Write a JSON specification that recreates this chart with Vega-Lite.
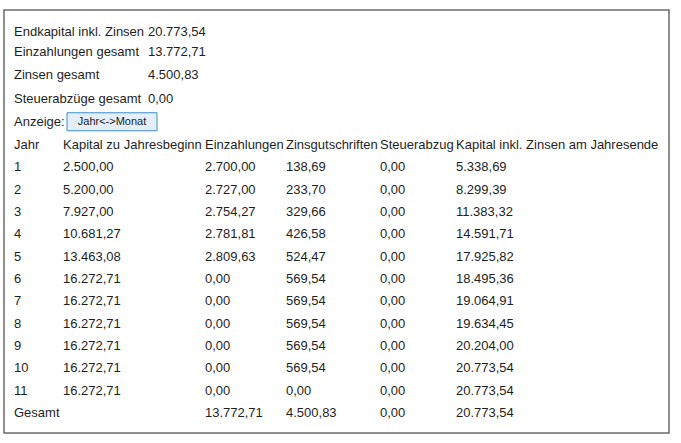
{
  "$schema": "https://vega.github.io/schema/vega-lite/v6.json",
  "width": 681,
  "height": 443,
  "autosize": {"type": "fit", "contains": "padding"},
  "padding": {"left": 4, "top": 10, "right": 12, "bottom": 10},
  "background": "white",
  "config": {
    "view": {"stroke": "#6b6b6b", "strokeWidth": 1.5},
    "text": {"font": "Liberation Sans", "fontSize": 13, "color": "#1e1e1e", "align": "left", "baseline": "middle"}
  },
  "datasets": {
    "summary": [
      {"r": 0, "c": 0, "t": "Endkapital inkl. Zinsen"},
      {"r": 0, "c": 2, "t": "20.773,54"},
      {"r": 1, "c": 0, "t": "Einzahlungen gesamt"},
      {"r": 1, "c": 2, "t": "13.772,71"},
      {"r": 2, "c": 0, "t": "Zinsen gesamt"},
      {"r": 2, "c": 2, "t": "4.500,83"},
      {"r": 3, "c": 0, "t": "Steuerabzüge gesamt"},
      {"r": 3, "c": 2, "t": "0,00"},
      {"r": 4, "c": 0, "t": "Anzeige:"}
    ],
    "button": [
      {"r": 4, "c": 1, "t": "Jahr<->Monat"}
    ],
    "table": [
      {"r": 5, "c": 0, "t": "Jahr"},
      {"r": 5, "c": 1, "t": "Kapital zu Jahresbeginn"},
      {"r": 5, "c": 2, "t": "Einzahlungen"},
      {"r": 5, "c": 3, "t": "Zinsgutschriften"},
      {"r": 5, "c": 4, "t": "Steuerabzug"},
      {"r": 5, "c": 5, "t": "Kapital inkl. Zinsen am Jahresende"},

      {"r": 6, "c": 0, "t": "1"}, {"r": 6, "c": 1, "t": "2.500,00"}, {"r": 6, "c": 2, "t": "2.700,00"}, {"r": 6, "c": 3, "t": "138,69"}, {"r": 6, "c": 4, "t": "0,00"}, {"r": 6, "c": 5, "t": "5.338,69"},
      {"r": 7, "c": 0, "t": "2"}, {"r": 7, "c": 1, "t": "5.200,00"}, {"r": 7, "c": 2, "t": "2.727,00"}, {"r": 7, "c": 3, "t": "233,70"}, {"r": 7, "c": 4, "t": "0,00"}, {"r": 7, "c": 5, "t": "8.299,39"},
      {"r": 8, "c": 0, "t": "3"}, {"r": 8, "c": 1, "t": "7.927,00"}, {"r": 8, "c": 2, "t": "2.754,27"}, {"r": 8, "c": 3, "t": "329,66"}, {"r": 8, "c": 4, "t": "0,00"}, {"r": 8, "c": 5, "t": "11.383,32"},
      {"r": 9, "c": 0, "t": "4"}, {"r": 9, "c": 1, "t": "10.681,27"}, {"r": 9, "c": 2, "t": "2.781,81"}, {"r": 9, "c": 3, "t": "426,58"}, {"r": 9, "c": 4, "t": "0,00"}, {"r": 9, "c": 5, "t": "14.591,71"},
      {"r": 10, "c": 0, "t": "5"}, {"r": 10, "c": 1, "t": "13.463,08"}, {"r": 10, "c": 2, "t": "2.809,63"}, {"r": 10, "c": 3, "t": "524,47"}, {"r": 10, "c": 4, "t": "0,00"}, {"r": 10, "c": 5, "t": "17.925,82"},
      {"r": 11, "c": 0, "t": "6"}, {"r": 11, "c": 1, "t": "16.272,71"}, {"r": 11, "c": 2, "t": "0,00"}, {"r": 11, "c": 3, "t": "569,54"}, {"r": 11, "c": 4, "t": "0,00"}, {"r": 11, "c": 5, "t": "18.495,36"},
      {"r": 12, "c": 0, "t": "7"}, {"r": 12, "c": 1, "t": "16.272,71"}, {"r": 12, "c": 2, "t": "0,00"}, {"r": 12, "c": 3, "t": "569,54"}, {"r": 12, "c": 4, "t": "0,00"}, {"r": 12, "c": 5, "t": "19.064,91"},
      {"r": 13, "c": 0, "t": "8"}, {"r": 13, "c": 1, "t": "16.272,71"}, {"r": 13, "c": 2, "t": "0,00"}, {"r": 13, "c": 3, "t": "569,54"}, {"r": 13, "c": 4, "t": "0,00"}, {"r": 13, "c": 5, "t": "19.634,45"},
      {"r": 14, "c": 0, "t": "9"}, {"r": 14, "c": 1, "t": "16.272,71"}, {"r": 14, "c": 2, "t": "0,00"}, {"r": 14, "c": 3, "t": "569,54"}, {"r": 14, "c": 4, "t": "0,00"}, {"r": 14, "c": 5, "t": "20.204,00"},
      {"r": 15, "c": 0, "t": "10"}, {"r": 15, "c": 1, "t": "16.272,71"}, {"r": 15, "c": 2, "t": "0,00"}, {"r": 15, "c": 3, "t": "569,54"}, {"r": 15, "c": 4, "t": "0,00"}, {"r": 15, "c": 5, "t": "20.773,54"},
      {"r": 16, "c": 0, "t": "11"}, {"r": 16, "c": 1, "t": "16.272,71"}, {"r": 16, "c": 2, "t": "0,00"}, {"r": 16, "c": 3, "t": "0,00"}, {"r": 16, "c": 4, "t": "0,00"}, {"r": 16, "c": 5, "t": "20.773,54"},
      {"r": 17, "c": 0, "t": "Gesamt"}, {"r": 17, "c": 2, "t": "13.772,71"}, {"r": 17, "c": 3, "t": "4.500,83"}, {"r": 17, "c": 4, "t": "0,00"}, {"r": 17, "c": 5, "t": "20.773,54"}
    ]
  },
  "layer": [
    {
      "data": {"name": "summary"},
      "mark": {"type": "text"},
      "encoding": {
        "x": {"field": "c", "type": "quantitative", "scale": {"domain": [0, 1, 2], "range": [10, 108, 144]}, "axis": null},
        "y": {"field": "r", "type": "quantitative", "scale": {"domain": [0, 1, 5, 17], "range": [22, 42, 135, 403]}, "axis": null},
        "text": {"field": "t"}
      }
    },
    {
      "data": {"name": "button"},
      "layer": [
        {
          "mark": {"type": "rect", "width": 90, "height": 18, "fill": "#e3effa", "stroke": "#3f8ccc", "strokeWidth": 1},
          "encoding": {
            "x": {"field": "c", "type": "quantitative", "scale": {"domain": [0, 1, 2], "range": [10, 108, 144]}, "axis": null},
            "y": {"field": "r", "type": "quantitative", "scale": {"domain": [0, 1, 5, 17], "range": [22, 42, 135, 403]}, "axis": null}
          }
        },
        {
          "mark": {"type": "text", "align": "center", "fontSize": 11},
          "encoding": {
            "x": {"field": "c", "type": "quantitative", "scale": {"domain": [0, 1, 2], "range": [10, 108, 144]}, "axis": null},
            "y": {"field": "r", "type": "quantitative", "scale": {"domain": [0, 1, 5, 17], "range": [22, 42, 135, 403]}, "axis": null},
            "text": {"field": "t"}
          }
        }
      ]
    },
    {
      "data": {"name": "table"},
      "mark": {"type": "text"},
      "encoding": {
        "x": {"field": "c", "type": "quantitative", "scale": {"domain": [0, 1, 2, 3, 4, 5], "range": [10, 59, 201, 282, 376, 452]}, "axis": null},
        "y": {"field": "r", "type": "quantitative", "scale": {"domain": [0, 1, 5, 17], "range": [22, 42, 135, 403]}, "axis": null},
        "text": {"field": "t"}
      }
    }
  ],
  "resolve": {"scale": {"x": "independent"}}
}
